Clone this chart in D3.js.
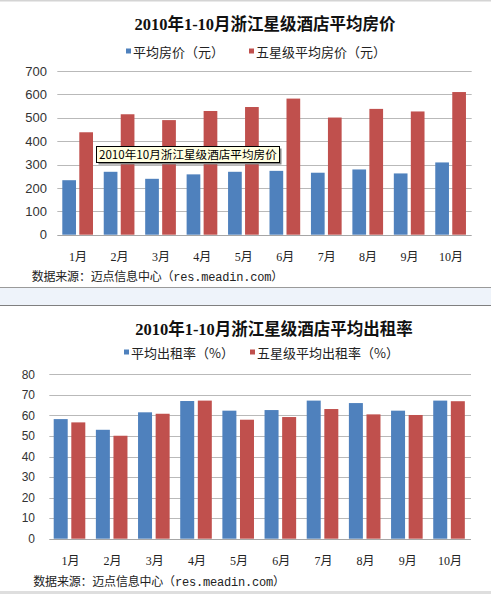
<!DOCTYPE html>
<html>
<head>
<meta charset="utf-8">
<script src="https://cdn.jsdelivr.net/npm/d3@7"></script>
<style>
  body { margin: 0; background: #fff; }
  svg { display: block; }
</style>
</head>
<body>
<svg id="chart" width="491" height="594"></svg>
<script>
// data
const months = ['1月', '2月', '3月', '4月', '5月', '6月', '7月', '8月', '9月', '10月'];
const avgPrice = [233, 269, 239, 258, 269, 273, 265, 279, 262, 309];
const fiveStarPrice = [438, 515, 490, 529, 546, 582, 501, 538, 527, 610];
const avgOcc = [58.2, 53.0, 61.5, 67.0, 62.3, 62.6, 67.2, 66.0, 62.3, 67.2];
const fiveStarOcc = [56.6, 50.1, 60.8, 67.2, 57.9, 59.2, 63.1, 60.5, 60.2, 66.9];
const priceTicks = [0, 100, 200, 300, 400, 500, 600, 700];
const occTicks = [0, 10, 20, 30, 40, 50, 60, 70, 80];
const priceSeries = ['平均房价（元）', '五星级平均房价（元）'];
const occSeries = ['平均出租率（%）', '五星级平均出租率（%）'];
const source = '数据来源：迈点信息中心（res.meadin.com）';

const colors = ['#4f81bd', '#c0504d'];
const svg = d3.select('#chart');

// page frame: faint top line, separator band between the two pictures, bottom strip
svg.append('rect').attr('x', 0).attr('y', 0).attr('width', 491).attr('height', 1.5).attr('fill', '#d4d4d4');
svg.append('rect').attr('x', 0).attr('y', 288).attr('width', 491).attr('height', 17).attr('fill', '#eef3fa');
svg.append('line').attr('x1', 0).attr('x2', 491).attr('y1', 287.5).attr('y2', 287.5).attr('stroke', '#9a9a9a');
svg.append('line').attr('x1', 0).attr('x2', 491).attr('y1', 305.5).attr('y2', 305.5).attr('stroke', '#7f7f7f');
svg.append('rect').attr('x', 0).attr('y', 591).attr('width', 491).attr('height', 3).attr('fill', '#dedede');

function drawChart(cfg) {
  const g = svg.append('g');

  const x = d3.scaleBand().domain(months).range([cfg.left, cfg.right]);
  const xi = d3.scaleBand().domain([0, 1])
    .range([cfg.barOffset, cfg.barOffset + 2 * cfg.barWidth + cfg.barGap])
    .paddingInner(cfg.barGap / (cfg.barWidth + cfg.barGap));
  const y = d3.scaleLinear().domain([0, d3.max(cfg.ticks)]).range([cfg.bottom, cfg.top]);

  // gridlines
  g.append('g')
    .selectAll('line')
    .data(cfg.ticks)
    .join('line')
    .attr('x1', cfg.left)
    .attr('x2', cfg.right)
    .attr('y1', (d) => Math.round(y(d)) + 0.5)
    .attr('y2', (d) => Math.round(y(d)) + 0.5)
    .attr('stroke', (d) => (d === 0 ? '#a6a6a6' : '#b9b9b9'))
    .attr('stroke-width', 1);

  // y tick labels
  g.append('g')
    .selectAll('text')
    .data(cfg.ticks)
    .join('text')
    .attr('x', cfg.labelRight)
    .attr('y', (d) => y(d))
    .attr('dy', '0.36em')
    .attr('text-anchor', 'end')
    .attr('font-family', 'Liberation Sans, Arial, sans-serif')
    .attr('font-size', cfg.tickSize)
    .attr('fill', '#333')
    .text((d) => d);

  // bars
  const series = [cfg.a, cfg.b];
  series.forEach((vals, si) => {
    g.append('g')
      .selectAll('rect')
      .data(vals)
      .join('rect')
      .attr('x', (d, i) => x(months[i]) + xi(si))
      .attr('y', (d) => y(d))
      .attr('width', xi.bandwidth())
      .attr('height', (d) => y(0) - y(d))
      .attr('fill', colors[si]);
  });

  // x labels
  g.append('g')
    .selectAll('text')
    .data(months)
    .join('text')
    .attr('x', (d) => x(d) + x.bandwidth() / 2)
    .attr('y', cfg.xLabelY)
    .attr('text-anchor', 'middle')
    .attr('font-family', 'Liberation Serif, "Noto Sans CJK SC", serif')
    .attr('font-size', 12)
    .attr('fill', '#222')
    .text((d) => d);

  // title
  g.append('text')
    .attr('x', cfg.titleX)
    .attr('y', cfg.titleY)
    .attr('text-anchor', 'middle')
    .attr('font-family', 'Liberation Serif, "Noto Sans CJK SC", serif')
    .attr('font-weight', 'bold')
    .attr('font-size', 16.5)
    .attr('fill', '#111')
    .text(cfg.title);

  // legend
  cfg.names.forEach((name, i) => {
    g.append('rect')
      .attr('x', cfg.legendX[i])
      .attr('y', cfg.legendY - 8)
      .attr('width', 5)
      .attr('height', 5)
      .attr('fill', colors[i]);
    g.append('text')
      .attr('x', cfg.legendX[i] + 7)
      .attr('y', cfg.legendY)
      .attr('font-family', '"Noto Sans CJK SC", sans-serif')
      .attr('font-size', 13)
      .attr('fill', '#222')
      .text(name);
  });

  // source note
  g.append('text')
    .attr('x', cfg.sourceX)
    .attr('y', cfg.sourceY)
    .attr('font-family', '"Liberation Mono", "Noto Sans CJK SC", monospace')
    .attr('font-size', 12)
    .attr('letter-spacing', -0.2)
    .attr('fill', '#222')
    .text(source);

  return { x, y, g };
}

const priceChart = drawChart({
  a: avgPrice, b: fiveStarPrice, ticks: priceTicks, names: priceSeries,
  title: '2010年1-10月浙江星级酒店平均房价',
  left: 57.3, right: 471.7, top: 71, bottom: 234.7,
  barOffset: 5, barWidth: 13.7, barGap: 3.3,
  labelRight: 47, tickSize: 13,
  xLabelY: 261, titleX: 265, titleY: 29.5,
  legendX: [126, 249], legendY: 56.5,
  sourceX: 31.7, sourceY: 281
});

drawChart({
  a: avgOcc, b: fiveStarOcc, ticks: occTicks, names: occSeries,
  title: '2010年1-10月浙江星级酒店平均出租率',
  left: 49.3, right: 471, top: 374.3, bottom: 538.7,
  barOffset: 4.4, barWidth: 14, barGap: 3.6,
  labelRight: 35, tickSize: 12,
  xLabelY: 565, titleX: 274, titleY: 334.5,
  legendX: [124, 250], legendY: 357.5,
  sourceX: 33.3, sourceY: 586
});

// hover tooltip left on the first chart
const tip = priceChart.g.append('g').attr('transform', 'translate(96.5,146.5)');
tip.append('rect').attr('x', 2).attr('y', 2).attr('width', 183).attr('height', 16).attr('fill', '#888');
tip.append('rect').attr('width', 183).attr('height', 16).attr('fill', '#ffffe1').attr('stroke', '#000').attr('stroke-width', 1);
tip.append('text')
  .attr('x', 2.5)
  .attr('y', 12.5)
  .attr('font-family', '"Noto Sans CJK SC", sans-serif')
  .attr('font-size', 11.6)
  .attr('fill', '#000')
  .text('2010年10月浙江星级酒店平均房价');
</script>
</body>
</html>
